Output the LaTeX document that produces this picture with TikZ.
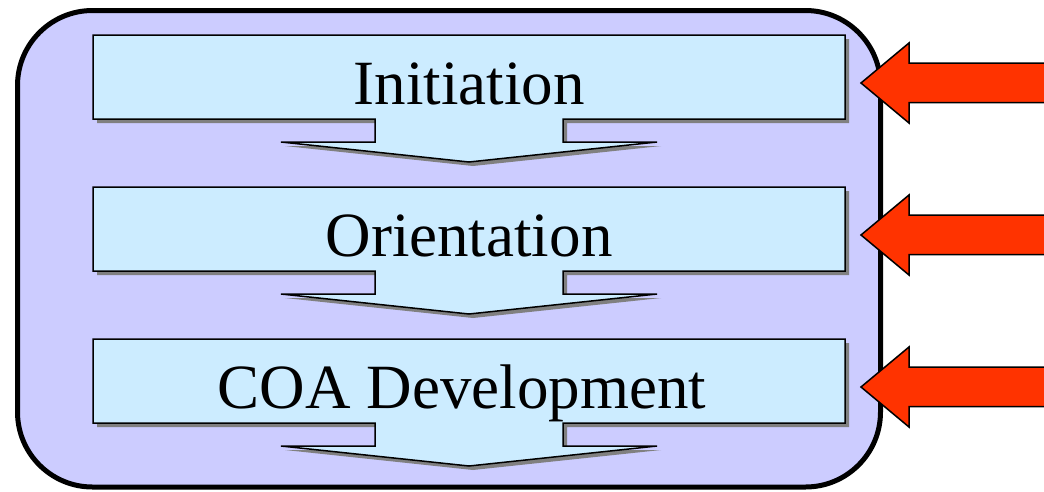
\documentclass[tikz,border=0pt]{standalone}
\usepackage{fontspec}
\setmainfont{Liberation Serif}
\definecolor{lav}{HTML}{CCCCFF}
\definecolor{lblue}{HTML}{CCECFF}
\definecolor{shad}{HTML}{808080}
\definecolor{redarr}{HTML}{FF3300}
\begin{document}
\begin{tikzpicture}[x=1pt,y=-1pt,
  frame/.style={draw=black,line width=5pt,fill=lav,rounded corners=75pt},
  stagebox/.style={draw=black,line width=1.5pt,fill=lblue,line join=miter},
  stageshadow/.style={fill=shad},
  inarrow/.style={draw=black,line width=1.5pt,fill=redarr,line join=miter},
  stagetext/.style={font=\fontsize{63}{63}\selectfont,anchor=base,inner sep=0pt}]
\useasboundingbox (0,0) rectangle (1044,491);
% outer frame
\draw[frame] (17.5,10.5) rectangle (880.5,487);
% stages
\foreach \t/\cx/\txt/\nm in {35/469/Initiation/init,187/469/Orientation/orient,339/462/COA Development/coa}{
  \begin{scope}[shift={(0,\t)}]
    \fill[stageshadow,shift={(4,4)}] (93,0) -- (845,0) -- (845,84) -- (563,84) -- (563,107) -- (657,107) -- (469,127) -- (281,107) -- (375,107) -- (375,84) -- (93,84) -- cycle;
    \draw[stagebox] (93,0) -- (845,0) -- (845,84) -- (563,84) -- (563,107) -- (657,107) -- (469,127) -- (281,107) -- (375,107) -- (375,84) -- (93,84) -- cycle;
    \node[stagetext] (\nm) at (\cx,69.5) {\txt};
  \end{scope}
}
% input arrows
\foreach \y/\nm in {83/ina,235/inb,387/inc}{
  \begin{scope}[shift={(0,\y)}]
    \coordinate (\nm) at (861,0);
    \draw[inarrow] (\nm) -- (909,-40) -- (909,-20) -- (1060,-20) -- (1060,19.5) -- (909,19.5) -- (909,40) -- cycle;
  \end{scope}
}
\end{tikzpicture}
\end{document}
